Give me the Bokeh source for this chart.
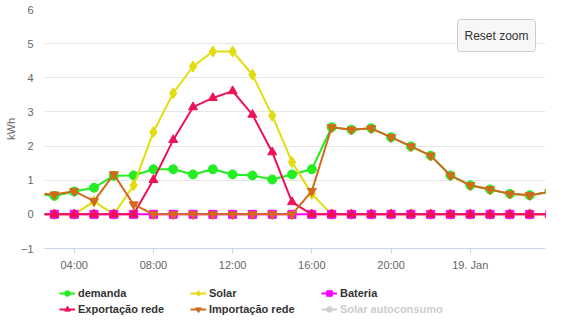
from bokeh.plotting import figure
from bokeh.layouts import column
from bokeh.models import (Range1d, FixedTicker, Legend, LegendItem, Label)
from bokeh.embed import file_html
from bokeh.resources import INLINE

# hours since 00:00 on 18 Jan (02:00 on 18 Jan .. 04:00 on 19 Jan)
hours = [2, 3, 4, 5, 6, 7, 8, 9, 10, 11, 12, 13, 14, 15, 16, 17, 18, 19, 20,
         21, 22, 23, 24, 25, 26, 27, 28]

demanda = [0.60, 0.54, 0.67, 0.78, 1.13, 1.14, 1.32, 1.32, 1.17, 1.32, 1.17,
           1.14, 1.02, 1.17, 1.32, 2.55, 2.48, 2.52, 2.26, 1.99, 1.72, 1.14,
           0.85, 0.73, 0.60, 0.56, 0.66]
solar = [0, 0, 0, 0.38, 0, 0.85, 2.41, 3.55, 4.33, 4.77, 4.77, 4.09, 2.89,
         1.53, 0.60, 0, 0, 0, 0, 0, 0, 0, 0, 0, 0, 0, 0]
bateria = [0] * 27
exportacao = [0, 0, 0, 0, 0, 0, 1.01, 2.18, 3.14, 3.41, 3.61, 2.92, 1.82,
              0.36, 0, 0, 0, 0, 0, 0, 0, 0, 0, 0, 0, 0, 0]
importacao = [0.62, 0.58, 0.68, 0.39, 1.17, 0.29, 0, 0, 0, 0, 0, 0, 0, 0,
              0.68, 2.55, 2.48, 2.52, 2.26, 1.99, 1.72, 1.14, 0.85, 0.73,
              0.60, 0.56, 0.66]
# hidden series (toggled off in the legend)
solar_autoconsumo_x = []
solar_autoconsumo = []

tick_hours = [4, 8, 12, 16, 20, 24]
tick_labels = ["04:00", "08:00", "12:00", "16:00", "20:00", "19. Jan"]
y_ticks = [-1, 0, 1, 2, 3, 4, 5, 6]

FONT = "Liberation Sans"

p = figure(width=565, height=285, output_backend="svg", toolbar_location=None,
           x_range=Range1d(2.5, 27.8), y_range=Range1d(-1, 6),
           min_border_left=44, min_border_right=20, min_border_top=9,
           min_border_bottom=37)
p.outline_line_color = None
p.background_fill_color = "white"
p.border_fill_color = "white"

# axes
p.xgrid.grid_line_color = None
p.ygrid.grid_line_color = "#e6e6e6"
p.ygrid.ticker = FixedTicker(ticks=y_ticks)
p.yaxis.ticker = FixedTicker(ticks=y_ticks)
p.yaxis.axis_line_color = None
p.yaxis.major_tick_line_color = None
p.yaxis.major_tick_in = 0
p.yaxis.major_tick_out = 0
p.yaxis.minor_tick_line_color = None
p.yaxis.minor_tick_in = 0
p.yaxis.minor_tick_out = 0
p.yaxis.major_label_standoff = 11
p.yaxis.major_label_text_color = "#666666"
p.yaxis.major_label_text_font = FONT
p.yaxis.major_label_text_font_size = "11px"
p.yaxis.axis_label = "kWh"
p.yaxis.axis_label_text_font = FONT
p.yaxis.axis_label_text_font_style = "normal"
p.yaxis.axis_label_text_font_size = "11px"
p.yaxis.axis_label_text_color = "#666666"
p.yaxis.axis_label_standoff = 1

p.xaxis.ticker = FixedTicker(ticks=tick_hours)
p.xaxis.major_label_overrides = {h: l for h, l in zip(tick_hours, tick_labels)}
p.xaxis.axis_line_color = "#ccd6eb"
p.xaxis.major_tick_line_color = "#ccd6eb"
p.xaxis.major_tick_in = 0
p.xaxis.major_tick_out = 5
p.xaxis.minor_tick_line_color = None
p.xaxis.minor_tick_in = 0
p.xaxis.minor_tick_out = 0
p.xaxis.major_label_standoff = 5
p.xaxis.major_label_text_color = "#666666"
p.xaxis.major_label_text_font = FONT
p.xaxis.major_label_text_font_size = "11px"

series = [
    ("demanda", demanda, "#22ee22", "circle", 9),
    ("Solar", solar, "#e3dc0e", "diamond", 11),
    ("Bateria", bateria, "#ff00ff", "square", 8),
    ("Exportação rede", exportacao, "#ee1155", "triangle", 9),
    ("Importação rede", importacao, "#d2691e", "inverted_triangle", 9),
]

for name, ys, color, marker, size in series:
    p.line(hours, ys, line_color=color, line_width=2)
    p.scatter(hours, ys, marker=marker, size=size, fill_color=color,
              line_color=color)

# Reset zoom button
btn = Label(x=452, y=213, x_units="screen", y_units="screen",
            text="Reset zoom", text_align="center", text_baseline="middle",
            text_font=FONT, text_font_size="12px", text_color="#333333",
            background_fill_color="#f7f7f7", border_line_color="#cccccc",
            padding=(7, 9), border_radius=3)
p.add_layout(btn)

# legend strip (its glyph renderers sit outside the visible range)
lg = figure(width=565, height=48, output_backend="svg", toolbar_location=None,
            x_range=Range1d(0, 1), y_range=Range1d(0, 1),
            x_axis_location=None, y_axis_location=None,
            min_border=0)
lg.outline_line_color = None
lg.grid.grid_line_color = None

off = [-10]
items = []
for name, ys, color, marker, size in series:
    ln = lg.line(off, off, line_color=color, line_width=2)
    sc = lg.scatter(off, off, marker=marker, size=size - 1, fill_color=color,
                    line_color=color)
    items.append(LegendItem(label=name, renderers=[ln, sc]))

ln_a = lg.line(off, off, line_color="#444444", line_width=2, visible=False)
sc_a = lg.scatter(off, off, marker="circle", size=8, fill_color="#444444",
                  line_color="#444444", visible=False)
items.append(LegendItem(label="Solar autoconsumo", renderers=[ln_a, sc_a]))

legend = Legend(items=items, orientation="horizontal",
                ncols=3, location=(15, 17), click_policy="hide",
                glyph_width=16, glyph_height=14, label_height=14,
                label_width=110, label_standoff=3, spacing=2, padding=0,
                margin=0, border_line_color=None,
                background_fill_alpha=0,
                label_text_font=FONT, label_text_font_style="bold",
                label_text_font_size="11px", label_text_color="#333333",
                inactive_fill_color="white", inactive_fill_alpha=0.75)
lg.add_layout(legend)

layout = column(p, lg, spacing=0)
open("out.html", "w").write(file_html(layout, INLINE))
